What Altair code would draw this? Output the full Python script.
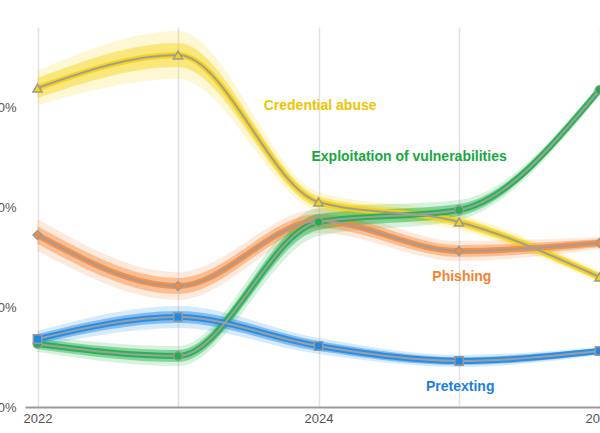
import altair as alt
import pandas as pd

# Share of breaches by initial action, 2022-2026
years = [2022, 2023, 2024, 2025, 2026]
series = ["Credential abuse", "Phishing", "Exploitation of vulnerabilities", "Pretexting"]

credential = [31.9, 35.2, 20.5, 18.5, 13.0]
phishing = [17.2, 12.1, 18.6, 15.6, 16.4]
exploitation = [6.3, 5.1, 18.5, 19.7, 31.7]
pretexting = [6.8, 9.0, 6.1, 4.6, 5.6]

# half-width of the simulation bundle around each central estimate (outer / dense core)
credential_outer = [1.7, 2.4, 1.0, 0.8, 0.6]
credential_inner = [1.0, 1.2, 0.6, 0.5, 0.4]
phishing_outer = [1.6, 1.4, 1.2, 1.0, 0.6]
phishing_inner = [0.9, 0.8, 0.7, 0.6, 0.4]
exploitation_outer = [0.8, 1.0, 1.4, 1.0, 0.6]
exploitation_inner = [0.5, 0.6, 0.8, 0.6, 0.4]
pretexting_outer = [0.8, 1.1, 0.8, 0.6, 0.4]
pretexting_inner = [0.5, 0.6, 0.5, 0.4, 0.3]

line_colors = ["#f6d20f", "#f7893b", "#1fb04b", "#1e88e5"]
text_colors = ["#eec400", "#f5822f", "#16a83f", "#1a80e0"]
shapes = ["triangle-up", "diamond", "circle", "square"]
sizes = [85, 70, 42, 50]

label_text = ["Credential abuse", "Exploitation of vulnerabilities", "Phishing", "Pretexting"]
label_x = [2023.61, 2023.95, 2024.81, 2024.765]
label_y = [30.1, 25.0, 13.0, 2.0]

centers = [credential, phishing, exploitation, pretexting]
outers = [credential_outer, phishing_outer, exploitation_outer, pretexting_outer]
inners = [credential_inner, phishing_inner, exploitation_inner, pretexting_inner]

rows = []
for name, c, o, i in zip(series, centers, outers, inners):
    for yr, v, ov, iv in zip(years, c, o, i):
        rows.append({
            "series": name, "year": yr, "value": v,
            "outer_lo": v - ov, "outer_hi": v + ov,
            "inner_lo": v - iv, "inner_hi": v + iv,
        })
df = pd.DataFrame(rows)
labels = pd.DataFrame({"text": label_text, "x": label_x, "y": label_y,
                       "series": ["Credential abuse", "Exploitation of vulnerabilities",
                                  "Phishing", "Pretexting"]})

x_scale = alt.Scale(domain=[2021.911, 2026.0035], nice=False, zero=False)
y_scale = alt.Scale(domain=[0, 38], nice=False)
color_scale = alt.Scale(domain=series, range=line_colors)
text_scale = alt.Scale(domain=series, range=text_colors)
curve = "monotone"

x_enc = alt.X("year:Q", scale=x_scale, title=None,
              axis=alt.Axis(values=years, grid=True, gridColor="#e3e3e3", gridWidth=1.5,
                            ticks=False, domain=True, domainColor="#9a9a9a", domainWidth=2,
                            labelExpr="datum.value % 2 == 0 ? datum.value : ''",
                            labelFontSize=13, labelColor="#555", labelPadding=5,
                            labelFont="Liberation Sans", labelFlush=False))
y_axis = alt.Axis(values=[0, 10, 20, 30], format=".0f", labelExpr="datum.value + '%'",
                  grid=False, ticks=False, domain=False, labelFontSize=13,
                  labelColor="#555", labelPadding=9, labelFont="Liberation Sans")

base = alt.Chart(df)

outer_band = base.mark_area(interpolate=curve, opacity=0.18).encode(
    x=x_enc,
    y=alt.Y("outer_lo:Q", scale=y_scale, title=None, axis=y_axis),
    y2="outer_hi:Q",
    color=alt.Color("series:N", scale=color_scale, legend=None),
)
inner_band = base.mark_area(interpolate=curve, opacity=0.45).encode(
    x="year:Q", y="inner_lo:Q", y2="inner_hi:Q",
    color=alt.Color("series:N", scale=color_scale, legend=None),
)
core = base.mark_line(interpolate=curve, strokeWidth=6, opacity=0.9).encode(
    x="year:Q", y="value:Q",
    color=alt.Color("series:N", scale=color_scale, legend=None),
)
center = base.mark_line(interpolate=curve, strokeWidth=2, color="#9e9e9e").encode(
    x="year:Q", y="value:Q", detail="series:N",
)
points = base.mark_point(filled=True, stroke="#9a9a9a", strokeWidth=1.5, opacity=1).encode(
    x="year:Q", y="value:Q",
    fill=alt.Fill("series:N", scale=color_scale, legend=None),
    shape=alt.Shape("series:N", scale=alt.Scale(domain=series, range=shapes), legend=None),
    size=alt.Size("series:N", scale=alt.Scale(domain=series, range=sizes), legend=None),
)
text = alt.Chart(labels).mark_text(align="left", baseline="middle", fontSize=14,
                                   fontWeight="bold", font="Liberation Sans").encode(
    x="x:Q", y="y:Q", text="text:N",
    color=alt.Color("series:N", scale=text_scale, legend=None),
)

chart = alt.layer(outer_band, inner_band, core, center, points, text).resolve_scale(
    color="independent"
).properties(
    width=575, height=380,
    autosize=alt.AutoSizeParams(type="none"),
    padding={"left": 25, "top": 27, "right": 0, "bottom": 26},
    background="white",
).configure_view(stroke=None)

chart.save("out.html", embed_options={"renderer": "svg", "actions": False})
